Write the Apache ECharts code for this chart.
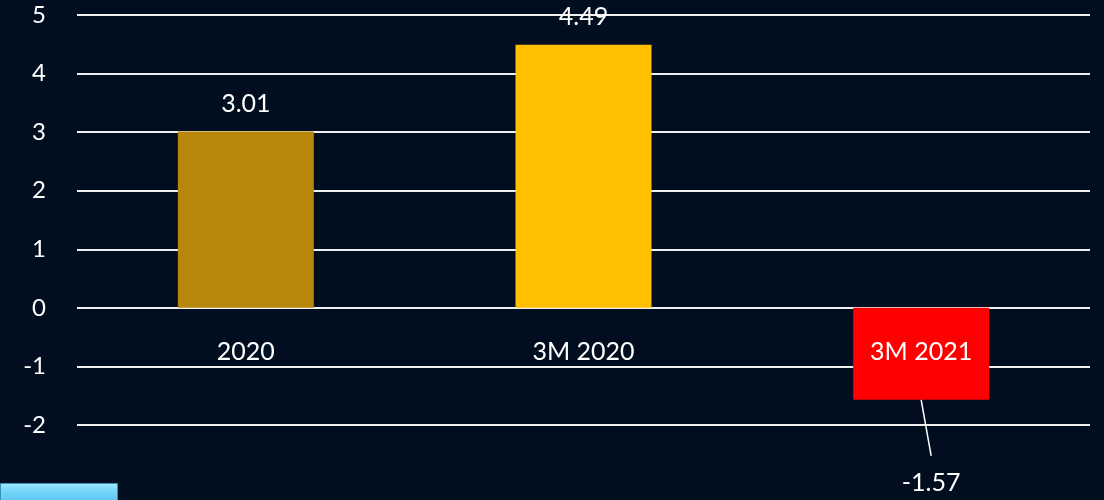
<!DOCTYPE html>
<html><head><meta charset="utf-8">
<script src="https://cdn.jsdelivr.net/npm/echarts@6/dist/echarts.min.js"></script>
<style>html,body{margin:0;padding:0;background:#010e20;}#c{width:1104px;height:500px;}</style>
</head><body><div id="c"></div>
<script>
const categories = ['2020', '3M 2020', '3M 2021'];
const values = [3.01, 4.49, -1.57];
const barColors = ['#b8860b', '#ffc000', '#ff0000'];
const yTicks = [-2, -1, 0, 1, 2, 3, 4, 5];

const FONT = 'Lato';
const chart = echarts.init(document.getElementById('c'));
chart.setOption({
  backgroundColor: '#010e20',
  animation: false,
  grid: { left: 77, right: 14, top: 15, bottom: 75 },
  xAxis: {
    type: 'category', data: categories,
    axisLine: { show: false }, axisTick: { show: false }, axisLabel: { show: false }
  },
  yAxis: {
    type: 'value', min: yTicks[0], max: yTicks[yTicks.length - 1], interval: 1,
    axisLine: { show: false }, axisTick: { show: false },
    axisLabel: { color: '#fff', fontFamily: FONT, fontSize: 24, margin: 31 },
    splitLine: { lineStyle: { color: '#f0f0f0', width: 2 } }
  },
  series: [{
    type: 'bar', barWidth: 136,
    data: values.map((v, i) => ({
      value: v,
      itemStyle: { color: barColors[i] },
      label: v < 0 ? { position: 'bottom', distance: 71 } : { position: 'top', distance: 15 }
    })),
    label: { show: true, color: '#fff', fontFamily: FONT, fontSize: 25, formatter: p => p.value.toFixed(2) },
    labelLayout: p => (values[p.dataIndex] < 0 ? { dx: 10 } : {})
  }, {
    // leader line for the negative value label
    type: 'custom', silent: true, z: 5,
    data: values.map((v, i) => [i, v]).filter(d => d[1] < 0),
    renderItem: (params, api) => {
      const p = api.coord([api.value(0), api.value(1)]);
      return {
        type: 'line',
        shape: { x1: p[0], y1: p[1], x2: p[0] + 10, y2: p[1] + 56 },
        style: { stroke: '#fff', lineWidth: 1.5 }
      };
    }
  }, {
    type: 'scatter', z: 10, symbolSize: 0, silent: true,
    itemStyle: { opacity: 1 },
    data: categories.map(c => [c, 0]),
    label: {
      show: true, position: 'bottom', distance: 32, color: '#ffffff',
      fontFamily: FONT, fontSize: 25,
      formatter: p => p.value[0]
    }
  }],
  graphic: [{
    type: 'rect', left: 0, top: 483, shape: { width: 117, height: 17 },
    style: {
      fill: new echarts.graphic.LinearGradient(0, 0, 0, 1, [
        { offset: 0, color: '#a8ecff' }, { offset: 0.3, color: '#7fdcff' }, { offset: 1, color: '#5cc6f0' }
      ]),
      stroke: '#3a8fb8', lineWidth: 1
    }
  }]
});
</script></body></html>
